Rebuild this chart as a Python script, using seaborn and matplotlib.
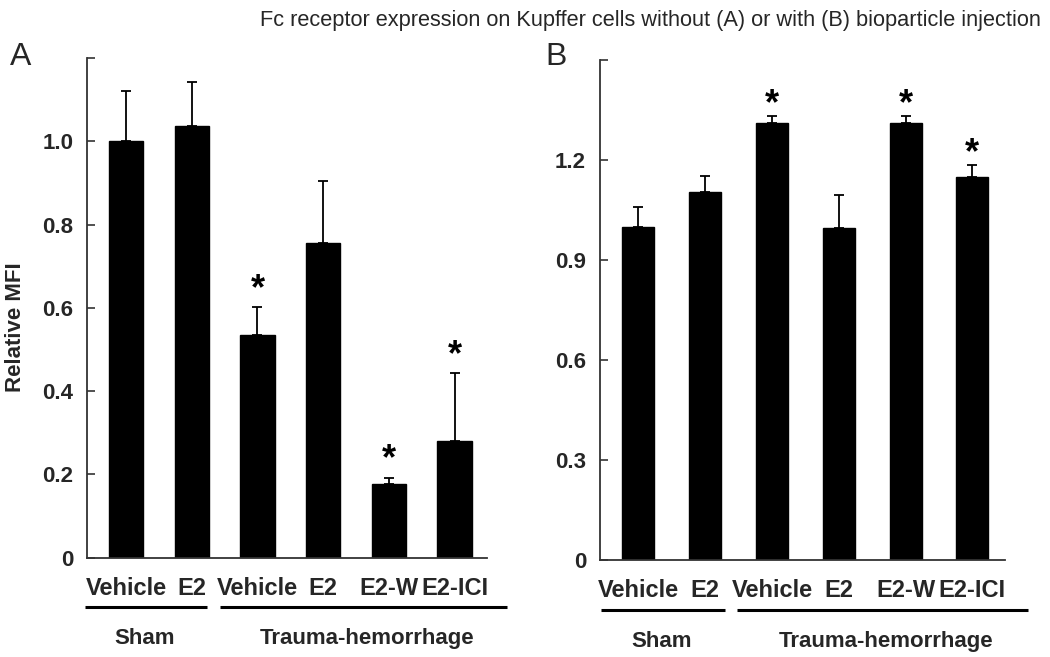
import numpy as np
import pandas as pd
import matplotlib
matplotlib.use("Agg")
import matplotlib.pyplot as plt
import seaborn as sns

# Data
groups = ["Sham", "Sham", "Trauma-hemorrhage", "Trauma-hemorrhage",
          "Trauma-hemorrhage", "Trauma-hemorrhage"]
treatments = ["Vehicle", "E2", "Vehicle", "E2", "E2-W", "E2-ICI"]

mfi_a = [1.00, 1.036, 0.536, 0.757, 0.176, 0.280]
err_a = [0.120, 0.108, 0.066, 0.149, 0.016, 0.163]
star_a = [False, False, True, False, True, True]

mfi_b = [1.000, 1.105, 1.312, 0.997, 1.312, 1.150]
err_b = [0.058, 0.047, 0.019, 0.098, 0.019, 0.034]
star_b = [False, False, True, False, True, True]

yticks_a = [0, 0.2, 0.4, 0.6, 0.8, 1.0, 1.2]
yticklabels_a = ["0", "0.2", "0.4", "0.6", "0.8", "1.0", ""]
yticks_b = [0, 0.3, 0.6, 0.9, 1.2, 1.5]
yticklabels_b = ["0", "0.3", "0.6", "0.9", "1.2", ""]

title = "Fc receptor expression on Kupffer cells without (A) or with (B) bioparticle injection"

sns.set_theme(style="white")
plt.rcParams["font.family"] = ["Liberation Sans", "DejaVu Sans"]

fig = plt.figure(figsize=(10.5, 6.57), dpi=100)
ax_a = fig.add_axes([0.0829, 0.1514, 0.381, 0.760])
ax_b = fig.add_axes([0.5714, 0.1476, 0.3857, 0.761])

keys = [f"{g} {t} {i}" for i, (g, t) in enumerate(zip(groups, treatments))]


def draw_panel(ax, vals, errs, stars, yticks, yticklabels, ylim, xlim, width,
               star_off, sham_line, th_line, sham_x, th_x):
    df = pd.DataFrame({"key": keys, "value": vals})
    sns.barplot(data=df, x="key", y="value", order=keys, color="black",
                edgecolor="black", width=width, saturation=1, ax=ax)
    x = np.arange(len(vals))
    ax.errorbar(x, vals, yerr=[np.zeros(len(vals)), errs], fmt="none",
                ecolor="black", elinewidth=1.3, capsize=3.5, capthick=1.3)
    for xi, v, e, s in zip(x, vals, errs, stars):
        if s:
            ax.annotate("*", xy=(xi, v + e), xytext=(0, star_off),
                        textcoords="offset points", ha="center", va="bottom",
                        fontsize=26, fontweight="bold", color="black")
    ax.set_ylim(*ylim)
    ax.set_xlim(*xlim)
    ax.set_yticks(yticks)
    ax.set_yticklabels(yticklabels, fontsize=16, fontweight="bold")
    ax.set_xticks(x)
    ax.set_xticklabels(treatments, fontsize=17, fontweight="bold")
    ax.tick_params(axis="x", length=0, pad=14)
    ax.tick_params(axis="y", direction="in", length=6, width=1.2, pad=10,
                   color="#333333", left=True)
    ax.set_xlabel("")
    ax.set_ylabel("")
    sns.despine(ax=ax)
    for side in ["left", "bottom"]:
        ax.spines[side].set_color("#333333")
        ax.spines[side].set_linewidth(1.3)
    # group underlines and group names
    for (x0, x1) in (sham_line, th_line):
        ax.plot([x0, x1], [-0.1, -0.1], transform=ax.transAxes,
                color="black", lw=2.2, clip_on=False, solid_capstyle="butt")
    ax.text(sham_x, -0.162, "Sham", transform=ax.transAxes, ha="center",
            va="center", fontsize=16, fontweight="bold")
    ax.text(th_x, -0.162, "Trauma-hemorrhage", transform=ax.transAxes,
            ha="center", va="center", fontsize=16, fontweight="bold")


draw_panel(ax_a, mfi_a, err_a, star_a, yticks_a, yticklabels_a, (0, 1.2),
           (-0.594, 5.495), 0.525, 0, (-0.005, 0.30), (0.3325, 1.05),
           0.145, 0.70)
draw_panel(ax_b, mfi_b, err_b, star_b, yticks_b, yticklabels_b, (0, 1.5),
           (-0.576, 5.487), 0.48, -4, (0.0025, 0.309), (0.338, 1.057),
           0.153, 0.706)

ax_a.set_ylabel("Relative MFI", fontsize=16, fontweight="bold")
ax_a.yaxis.set_label_coords(-0.153, 0.461)

fig.text(0.0200, 0.913, "A", fontsize=23, ha="center", va="center")
fig.text(0.5300, 0.9125, "B", fontsize=23, ha="center", va="center")
fig.text(0.619, 0.969, title, fontsize=15.7, ha="center", va="center")

fig.savefig("out.png", dpi=100)
